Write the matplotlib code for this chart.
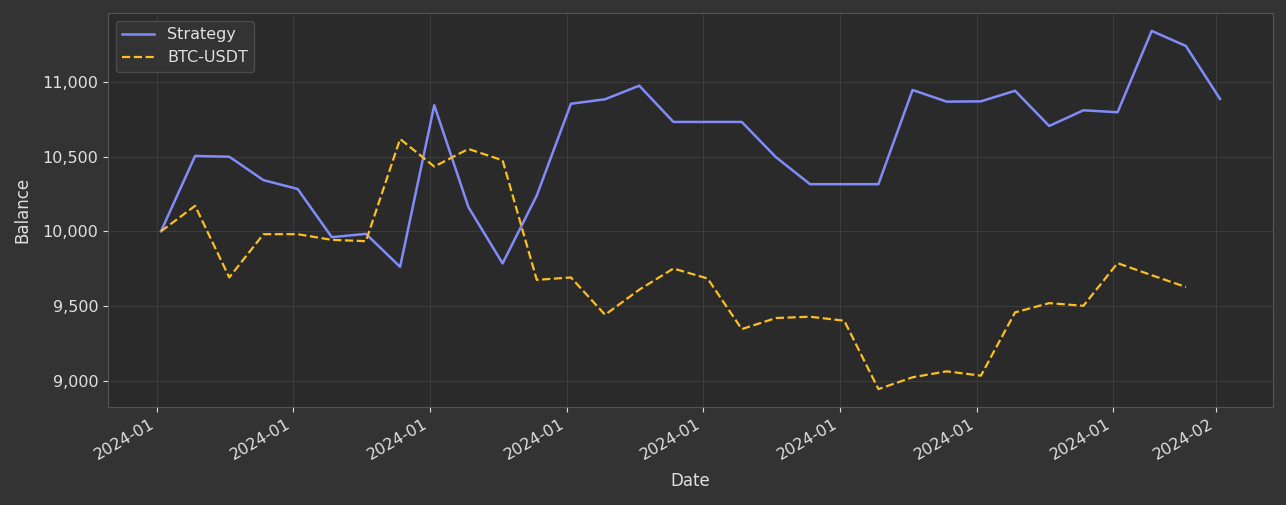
import matplotlib
matplotlib.use("Agg")
import matplotlib.pyplot as plt
import matplotlib.dates as mdates
import matplotlib.ticker as mticker
import numpy as np
import pandas as pd

dates = pd.date_range("2024-01-01 03:00", periods=32, freq="D")
strategy = [10000, 10505, 10500, 10343, 10284, 9961, 9983, 9762, 10845, 10162,
            9785, 10240, 10855, 10885, 10976, 10733, 10733, 10733, 10497, 10316,
            10316, 10316, 10947, 10869, 10871, 10942, 10706, 10811, 10798, 11343,
            11242, 10887]
btc = [10000, 10171, 9691, 9981, 9981, 9943, 9934, 10619, 10434, 10552,
       10476, 9675, 9691, 9441, 9609, 9751, 9684, 9345, 9419, 9428,
       9401, 8943, 9022, 9062, 9033, 9457, 9519, 9501, 9787, 9706,
       9627, np.nan]

TXT = "#e0e0e0"
fig = plt.figure(figsize=(12.86, 5.05), dpi=100, facecolor="#333333")
ax = fig.add_axes([108/1286, 1 - 407/505, (1273-108)/1286, (407-13)/505])
ax.set_facecolor("#2a2a2a")

ax.plot(dates, strategy, color="#818cf8", lw=1.8, label="Strategy")
ax.plot(dates, btc, color="#fbbf24", lw=1.6, ls="--", label="BTC-USDT")

ax.grid(True, color="#3c3c3c", lw=0.8)
ax.set_axisbelow(True)
for s in ax.spines.values():
    s.set_color("#555555")
ax.tick_params(colors=TXT, labelsize=11.5, length=3.5)
ax.xaxis.set_major_locator(mdates.DayLocator(bymonthday=[1, 5, 9, 13, 17, 21, 25, 29]))
ax.xaxis.set_major_formatter(mdates.DateFormatter("%Y-%m"))
ax.yaxis.set_major_locator(mticker.MultipleLocator(500))
ax.yaxis.set_major_formatter(mticker.StrMethodFormatter("{x:,.0f}"))
for lbl in ax.get_xticklabels():
    lbl.set_rotation(30)
    lbl.set_ha("right")
ax.set_xlabel("Date", color=TXT, fontsize=12, labelpad=6.5)
ax.set_ylabel("Balance", color=TXT, fontsize=12, labelpad=7.5)

leg = ax.legend(loc="upper left", fontsize=11.5, facecolor="#333333",
                edgecolor="#4a4a4a", framealpha=1.0)
for t in leg.get_texts():
    t.set_color(TXT)

fig.savefig("out.png", dpi=100, facecolor=fig.get_facecolor())
